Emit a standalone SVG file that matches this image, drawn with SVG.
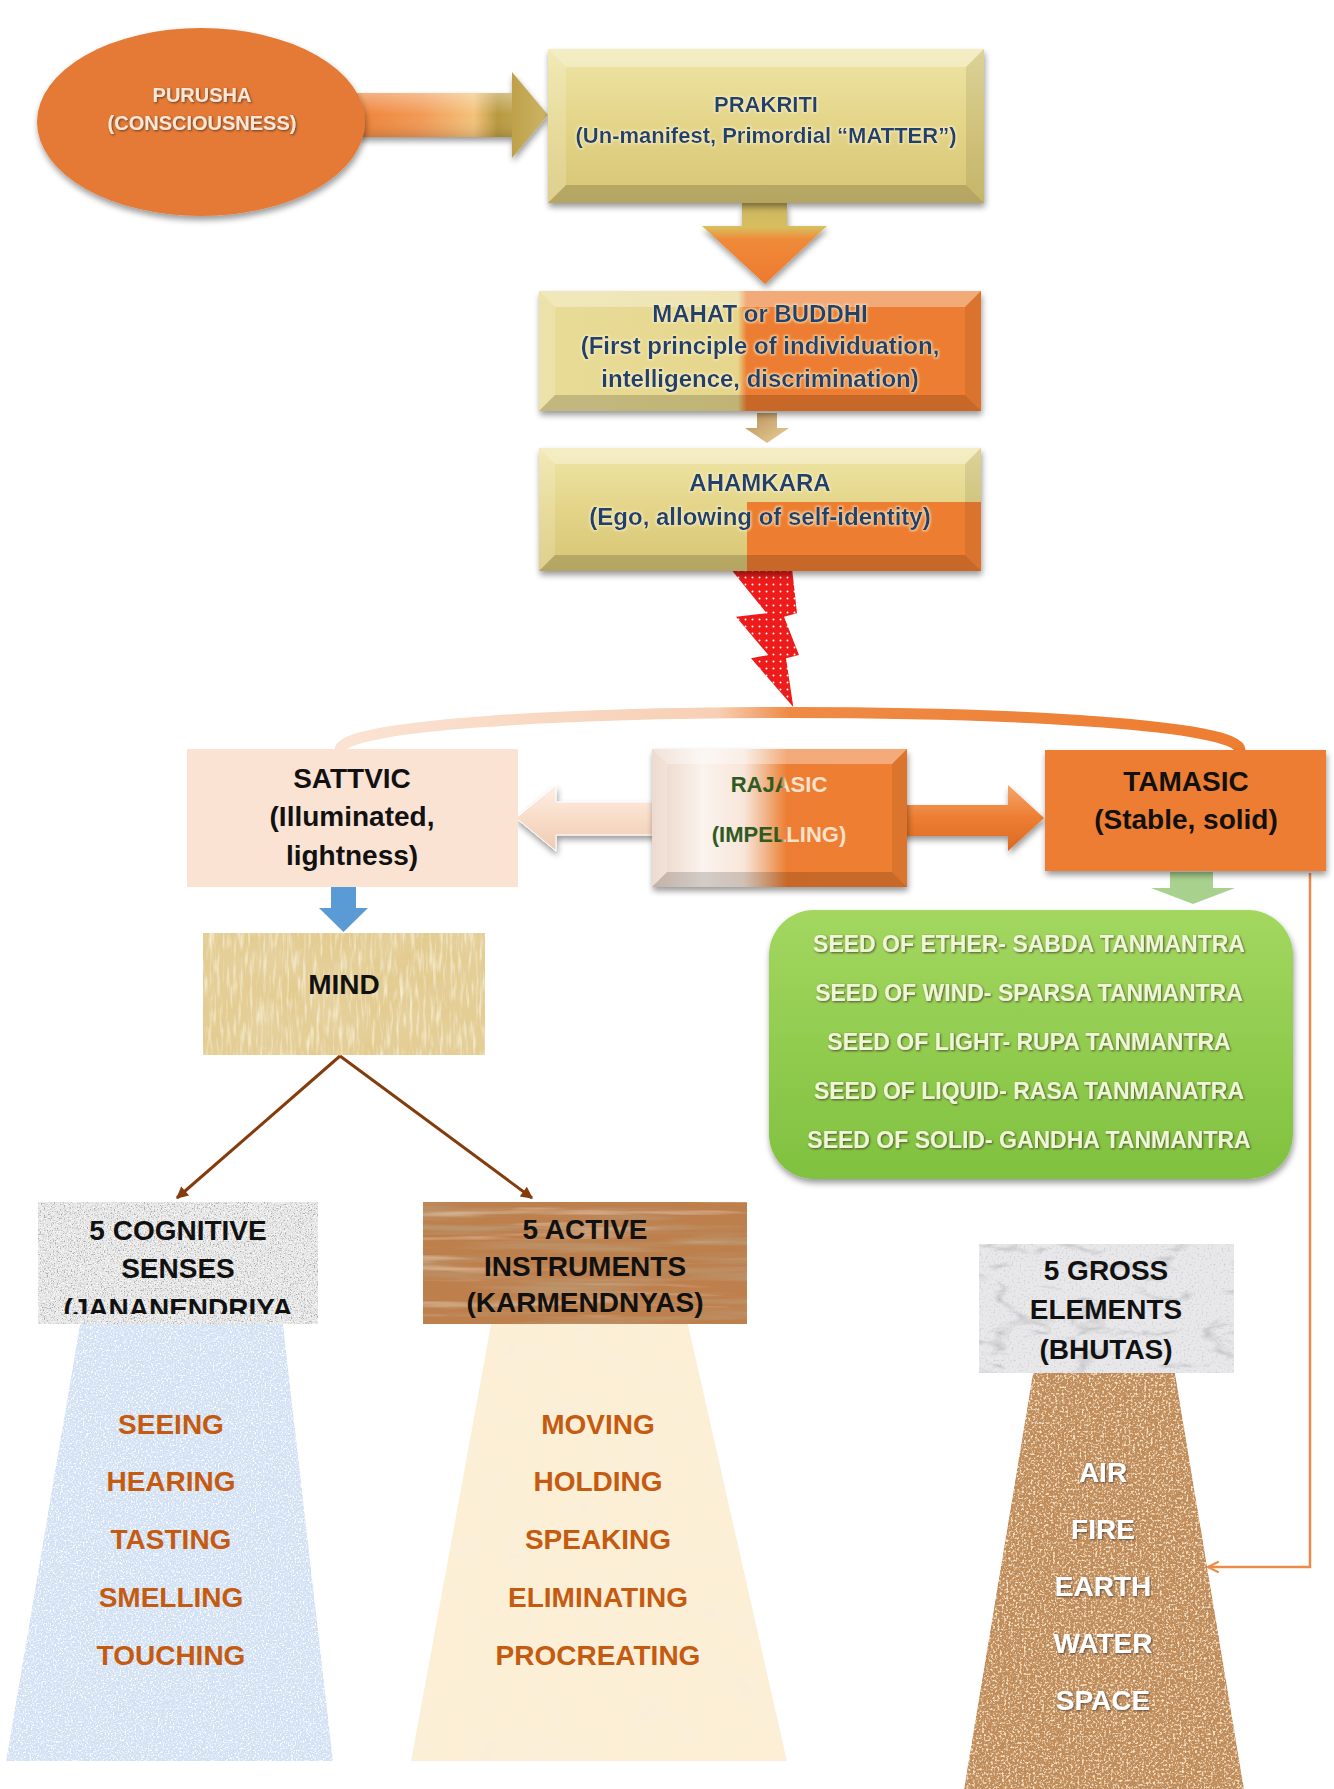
<svg xmlns="http://www.w3.org/2000/svg" width="1334" height="1789" viewBox="0 0 1334 1789">
<defs>
<style>
.t{font-family:"Liberation Sans",Arial,Helvetica,sans-serif;font-weight:bold;text-anchor:middle}
.navy{fill:#22406c}
.blk{fill:#111;font-size:28px}
.org{fill:#c55a11;font-size:28px}
.wht{fill:#fff;font-size:28px}
.grn{fill:#eef6d6;font-size:23px}
.bvT{fill:#fff;opacity:.35}
.bvL{fill:#fff;opacity:.18}
.bvR{fill:#000;opacity:.08}
.bvB{fill:#000;opacity:.16}
</style>
<filter id="sh" x="-10%" y="-10%" width="125%" height="135%">
<feGaussianBlur in="SourceAlpha" stdDeviation="3"/>
<feOffset dx="1" dy="4" result="b"/>
<feComponentTransfer in="b" result="bb"><feFuncA type="linear" slope="0.4"/></feComponentTransfer>
<feMerge><feMergeNode in="bb"/><feMergeNode in="SourceGraphic"/></feMerge>
</filter>
<filter id="tsh" x="-5%" y="-20%" width="110%" height="150%">
<feDropShadow dx="1" dy="1" stdDeviation="0.8" flood-color="#3a2a20" flood-opacity="0.75"/>
</filter>
<filter id="glow" x="-5%" y="-30%" width="110%" height="160%">
<feMorphology in="SourceAlpha" operator="dilate" radius="1.2" result="d"/>
<feGaussianBlur in="d" stdDeviation="1" result="b"/>
<feFlood flood-color="#f8f2c8" flood-opacity="0.75"/>
<feComposite in2="b" operator="in" result="g"/>
<feMerge><feMergeNode in="g"/><feMergeNode in="SourceGraphic"/></feMerge>
</filter>
<filter id="fGranite">
<feTurbulence type="fractalNoise" baseFrequency="0.7" numOctaves="2" seed="4" result="n"/>
<feColorMatrix in="n" type="matrix" values="0 0 0 0 0.4 0 0 0 0 0.4 0 0 0 0 0.4 4 0 0 0 -2" result="c"/>
<feColorMatrix in="n" type="matrix" values="0 0 0 0 1 0 0 0 0 1 0 0 0 0 1 0 -4 0 0 1.9" result="c2"/>
<feMerge result="m"><feMergeNode in="SourceGraphic"/><feMergeNode in="c"/><feMergeNode in="c2"/></feMerge>
<feComposite in="m" in2="SourceGraphic" operator="in"/>
</filter>
<filter id="fWood">
<feTurbulence type="fractalNoise" baseFrequency="0.006 0.12" numOctaves="3" seed="7" result="n"/>
<feColorMatrix in="n" type="matrix" values="0 0 0 0 0.5 0 0 0 0 0.3 0 0 0 0 0.15 2.5 0 0 0 -1.05" result="c"/>
<feColorMatrix in="n" type="matrix" values="0 0 0 0 0.86 0 0 0 0 0.62 0 0 0 0 0.42 0 -2 0 0 0.8" result="c2"/>
<feMerge result="m"><feMergeNode in="SourceGraphic"/><feMergeNode in="c"/><feMergeNode in="c2"/></feMerge>
<feComposite in="m" in2="SourceGraphic" operator="in"/>
</filter>
<filter id="fPapyrus">
<feTurbulence type="fractalNoise" baseFrequency="0.04 0.3" numOctaves="2" seed="2" result="n1"/>
<feColorMatrix in="n1" type="matrix" values="0 0 0 0 0.75 0 0 0 0 0.62 0 0 0 0 0.35 2 0 0 0 -0.95" result="c1"/>
<feTurbulence type="fractalNoise" baseFrequency="0.3 0.04" numOctaves="2" seed="5" result="n2"/>
<feColorMatrix in="n2" type="matrix" values="0 0 0 0 0.96 0 0 0 0 0.9 0 0 0 0 0.7 2 0 0 0 -0.95" result="c2"/>
<feTurbulence type="fractalNoise" baseFrequency="0.02" numOctaves="2" seed="8" result="n3"/>
<feColorMatrix in="n3" type="matrix" values="0 0 0 0 0.8 0 0 0 0 0.66 0 0 0 0 0.38 1.5 0 0 0 -0.6" result="c3"/>
<feMerge result="m"><feMergeNode in="SourceGraphic"/><feMergeNode in="c3"/><feMergeNode in="c1"/><feMergeNode in="c2"/></feMerge>
<feComposite in="m" in2="SourceGraphic" operator="in"/>
</filter>
<filter id="fBlue">
<feTurbulence type="fractalNoise" baseFrequency="0.6" numOctaves="2" seed="9" result="n"/>
<feColorMatrix in="n" type="matrix" values="0 0 0 0 1 0 0 0 0 1 0 0 0 0 1 4 0 0 0 -1.9" result="c"/>
<feColorMatrix in="n" type="matrix" values="0 0 0 0 0.62 0 0 0 0 0.74 0 0 0 0 0.9 0 4 0 0 -2.1" result="c2"/>
<feMerge result="m"><feMergeNode in="SourceGraphic"/><feMergeNode in="c"/><feMergeNode in="c2"/></feMerge>
<feComposite in="m" in2="SourceGraphic" operator="in"/>
</filter>
<filter id="fCream">
<feTurbulence type="fractalNoise" baseFrequency="0.03" numOctaves="3" seed="3" result="n"/>
<feColorMatrix in="n" type="matrix" values="0 0 0 0 0.95 0 0 0 0 0.86 0 0 0 0 0.7 2 0 0 0 -0.85" result="c"/>
<feMerge result="m"><feMergeNode in="SourceGraphic"/><feMergeNode in="c"/></feMerge>
<feComposite in="m" in2="SourceGraphic" operator="in"/>
</filter>
<filter id="fMarble">
<feTurbulence type="turbulence" baseFrequency="0.012 0.03" numOctaves="4" seed="11" result="n"/>
<feColorMatrix in="n" type="matrix" values="0 0 0 0 0.5 0 0 0 0 0.5 0 0 0 0 0.53 -4 0 0 0 0.85" result="c"/>
<feTurbulence type="fractalNoise" baseFrequency="0.5" numOctaves="2" seed="12" result="n2"/>
<feColorMatrix in="n2" type="matrix" values="0 0 0 0 0.6 0 0 0 0 0.6 0 0 0 0 0.62 3 0 0 0 -1.6" result="c2"/>
<feMerge result="m"><feMergeNode in="SourceGraphic"/><feMergeNode in="c"/><feMergeNode in="c2"/></feMerge>
<feComposite in="m" in2="SourceGraphic" operator="in"/>
</filter>
<filter id="fCork">
<feTurbulence type="fractalNoise" baseFrequency="0.45" numOctaves="2" seed="6" result="n"/>
<feColorMatrix in="n" type="matrix" values="0 0 0 0 0.45 0 0 0 0 0.26 0 0 0 0 0.12 4 0 0 0 -1.9" result="c"/>
<feColorMatrix in="n" type="matrix" values="0 0 0 0 0.94 0 0 0 0 0.78 0 0 0 0 0.56 0 4 0 0 -2.0" result="c2"/>
<feMerge result="m"><feMergeNode in="SourceGraphic"/><feMergeNode in="c"/><feMergeNode in="c2"/></feMerge>
<feComposite in="m" in2="SourceGraphic" operator="in"/>
</filter>
<linearGradient id="gGold" x1="0" y1="0" x2="0" y2="1">
<stop offset="0" stop-color="#efe5a6"/><stop offset="0.5" stop-color="#e3d488"/><stop offset="1" stop-color="#d7c574"/>
</linearGradient>
<linearGradient id="gMahat" gradientUnits="userSpaceOnUse" x1="539" y1="0" x2="981" y2="0">
<stop offset="0" stop-color="#e8dc98"/><stop offset="0.45" stop-color="#e6d68c"/><stop offset="0.47" stop-color="#ed7d31"/><stop offset="1" stop-color="#ed7d31"/>
</linearGradient>
<linearGradient id="gRaj" gradientUnits="userSpaceOnUse" x1="652" y1="0" x2="907" y2="0">
<stop offset="0" stop-color="#ead3c4"/><stop offset="0.2" stop-color="#fbf3ee"/><stop offset="0.36" stop-color="#f8e6da"/><stop offset="0.44" stop-color="#f1b88e"/><stop offset="0.53" stop-color="#ed7d31"/><stop offset="1" stop-color="#ee7f33"/>
</linearGradient>
<linearGradient id="gRajText" gradientUnits="userSpaceOnUse" x1="776" y1="0" x2="790" y2="0">
<stop offset="0.3" stop-color="#2f5a22"/><stop offset="0.7" stop-color="#fbe2cc"/>
</linearGradient>
<linearGradient id="gArr1" gradientUnits="userSpaceOnUse" x1="353" y1="0" x2="548" y2="0">
<stop offset="0" stop-color="#ee8035"/><stop offset="0.35" stop-color="#f29a55"/><stop offset="0.62" stop-color="#f3c27a"/><stop offset="0.74" stop-color="#b8983e"/><stop offset="1" stop-color="#cdb566"/>
</linearGradient>
<linearGradient id="gHi" x1="0" y1="0" x2="0" y2="1">
<stop offset="0" stop-color="#fff" stop-opacity="0.35"/><stop offset="0.5" stop-color="#fff" stop-opacity="0"/><stop offset="1" stop-color="#000" stop-opacity="0.12"/>
</linearGradient>
<linearGradient id="gDown" gradientUnits="userSpaceOnUse" x1="0" y1="203" x2="0" y2="284">
<stop offset="0" stop-color="#c9b461"/><stop offset="0.3" stop-color="#d8be5c"/><stop offset="0.45" stop-color="#f08a3a"/><stop offset="1" stop-color="#ec7a2e"/>
</linearGradient>
<linearGradient id="gSmall" x1="0" y1="0" x2="1" y2="1">
<stop offset="0" stop-color="#b88f58"/><stop offset="1" stop-color="#ead19a"/>
</linearGradient>
<linearGradient id="gArc" gradientUnits="userSpaceOnUse" x1="340" y1="0" x2="1240" y2="0">
<stop offset="0" stop-color="#fbe3d3"/><stop offset="0.42" stop-color="#f7cfb4"/><stop offset="0.5" stop-color="#ef8a45"/><stop offset="1" stop-color="#ed7d31"/>
</linearGradient>
<linearGradient id="gPeachArr" x1="0" y1="0" x2="0" y2="1">
<stop offset="0" stop-color="#fdf0e6"/><stop offset="0.5" stop-color="#f8dcc8"/><stop offset="1" stop-color="#efcbb2"/>
</linearGradient>
<linearGradient id="gOrArr" x1="0" y1="0" x2="0" y2="1">
<stop offset="0" stop-color="#f6a66c"/><stop offset="0.5" stop-color="#ed7d31"/><stop offset="1" stop-color="#d96a22"/>
</linearGradient>
<linearGradient id="gGreen" x1="0" y1="0" x2="0" y2="1">
<stop offset="0" stop-color="#a3d760"/><stop offset="1" stop-color="#80c13f"/>
</linearGradient>
<pattern id="dots" width="7" height="7" patternUnits="userSpaceOnUse">
<rect width="7" height="7" fill="#ee1b1b"/><circle cx="3.5" cy="3.5" r="1" fill="#fff"/>
</pattern>
<marker id="mBrown" viewBox="0 0 10 10" refX="9" refY="5" markerWidth="14" markerHeight="12" markerUnits="userSpaceOnUse" orient="auto">
<path d="M0,0 L10,5 L0,10 z" fill="#843c0c"/>
</marker>
<marker id="mOrange" viewBox="0 0 10 10" refX="9" refY="5" markerWidth="14" markerHeight="12" markerUnits="userSpaceOnUse" orient="auto">
<path d="M0,0.5 L9,5 L0,9.5" fill="none" stroke="#ed8a4a" stroke-width="1.8"/>
</marker>
<clipPath id="clipCog"><rect x="38" y="1200" width="280" height="114"/></clipPath>
</defs>

<rect width="1334" height="1789" fill="#fff"/>

<g id="connectors">
<path d="M340,750 C340,700 1240,700 1240,750" fill="none" stroke="url(#gArc)" stroke-width="11"/>
<g filter="url(#sh)">
<polygon points="353,93 512,93 512,72 548,115 512,158 512,137 353,137" fill="url(#gArr1)"/>
<polygon points="353,93 512,93 512,137 353,137" fill="url(#gHi)"/>
</g>
<polygon points="742,203 787,203 787,226 827,226 765,284 702,226 742,226" fill="url(#gDown)" filter="url(#sh)"/>
<polygon points="757,413 777,413 777,428 789,428 767,443 745,428 757,428" fill="url(#gSmall)"/>
<polygon points="730,568 792,568 797,613.3 784,616.7 799,655 786,658.3 793.3,707 751,658.3 768.3,655 736,616.7 766.7,613.3" fill="url(#dots)"/>
<polygon points="516,818 556,785 556,802 670,802 670,835 556,835 556,851" fill="url(#gPeachArr)" stroke="#fff" stroke-width="1" filter="url(#sh)"/>
<polygon points="895,805 1008,805 1008,785 1044,818 1008,851 1008,836 895,836" fill="url(#gOrArr)" filter="url(#sh)"/>
<polygon points="331,874 356,874 356,908 368,908 343.5,932 319,908 331,908" fill="#5b9bd5"/>
<polygon points="1170,872 1213,872 1213,888 1235,888 1193,904 1151,888 1170,888" fill="#a9d18e"/>
<line x1="340" y1="1056" x2="177" y2="1198" stroke="#843c0c" stroke-width="3" marker-end="url(#mBrown)"/>
<line x1="340" y1="1056" x2="532" y2="1198" stroke="#843c0c" stroke-width="3" marker-end="url(#mBrown)"/>
<path d="M1310,873 V1567 H1208" fill="none" stroke="#ed8a4a" stroke-width="2.5" marker-end="url(#mOrange)"/>
</g>

<g id="purusha">
<ellipse cx="201" cy="122" rx="164" ry="94" fill="#e47a36" filter="url(#sh)"/>
<g class="t" font-size="20" fill="#fce6d6" filter="url(#tsh)">
<text x="202" y="102">PURUSHA</text>
<text x="202" y="130">(CONSCIOUSNESS)</text>
</g>
</g>

<g id="prakriti">
<rect x="548" y="49" width="436" height="154" fill="url(#gGold)" filter="url(#sh)"/>
<polygon class="bvT" points="548,49 984,49 966,67 566,67"/>
<polygon class="bvL" points="548,49 566,67 566,185 548,203"/>
<polygon class="bvR" points="984,49 984,203 966,185 966,67"/>
<polygon class="bvB" points="548,203 566,185 966,185 984,203"/>
<g class="t navy" font-size="22" filter="url(#glow)">
<text x="766" y="112">PRAKRITI</text>
<text x="766" y="143">(Un-manifest, Primordial “MATTER”)</text>
</g>
</g>

<g id="mahat">
<rect x="539" y="291" width="442" height="120" fill="url(#gMahat)" filter="url(#sh)"/>
<polygon class="bvT" points="539,291 981,291 965,307 555,307"/>
<polygon class="bvL" points="539,291 555,307 555,395 539,411"/>
<polygon class="bvR" points="981,291 981,411 965,395 965,307"/>
<polygon class="bvB" points="539,411 555,395 965,395 981,411"/>
<g class="t navy" font-size="24" filter="url(#glow)">
<text x="760" y="322">MAHAT or BUDDHI</text>
<text x="760" y="354">(First principle of individuation,</text>
<text x="760" y="387">intelligence, discrimination)</text>
</g>
</g>

<g id="ahamkara">
<rect x="539" y="448" width="442" height="123" fill="url(#gGold)" filter="url(#sh)"/>
<rect x="747" y="502" width="234" height="69" fill="#ed7d31"/>
<polygon class="bvT" points="539,448 981,448 965,464 555,464"/>
<polygon class="bvL" points="539,448 555,464 555,555 539,571"/>
<polygon class="bvR" points="981,448 981,571 965,555 965,464"/>
<polygon class="bvB" points="539,571 555,555 965,555 981,571"/>
<g class="t navy" font-size="24" filter="url(#glow)">
<text x="760" y="491">AHAMKARA</text>
<text x="760" y="525">(Ego, allowing of self-identity)</text>
</g>
</g>

<g id="sattvic">
<rect x="187" y="749" width="331" height="138" fill="#fbe3d4"/>
<g class="t blk">
<text x="352" y="788">SATTVIC</text>
<text x="352" y="826">(Illuminated,</text>
<text x="352" y="865">lightness)</text>
</g>
</g>

<g id="rajasic">
<rect x="652" y="749" width="255" height="138" fill="url(#gRaj)" filter="url(#sh)"/>
<polygon class="bvT" points="652,749 907,749 892,764 667,764"/>
<polygon class="bvL" points="652,749 667,764 667,872 652,887"/>
<polygon class="bvR" points="907,749 907,887 892,872 892,764"/>
<polygon class="bvB" points="652,887 667,872 892,872 907,887"/>
<g class="t" font-size="22" fill="url(#gRajText)">
<text x="779" y="792">RAJASIC</text>
<text x="779" y="842">(IMPELLING)</text>
</g>
</g>

<g id="tamasic">
<rect x="1045" y="750" width="281" height="121" fill="#ed7d31" filter="url(#sh)"/>
<g class="t blk">
<text x="1186" y="791">TAMASIC</text>
<text x="1186" y="829">(Stable, solid)</text>
</g>
</g>

<g id="mind">
<rect x="203" y="933" width="282" height="122" fill="#e4cc90" filter="url(#fPapyrus)"/>
<text class="t blk" x="344" y="994">MIND</text>
</g>

<g id="tanmantras">
<rect x="769" y="910" width="524" height="269" rx="45" ry="45" fill="url(#gGreen)" filter="url(#sh)"/>
<g class="t grn" filter="url(#tsh)">
<text x="1029" y="952">SEED OF ETHER- SABDA TANMANTRA</text>
<text x="1029" y="1001">SEED OF WIND- SPARSA TANMANTRA</text>
<text x="1029" y="1050">SEED OF LIGHT- RUPA TANMANTRA</text>
<text x="1029" y="1099">SEED OF LIQUID- RASA TANMANATRA</text>
<text x="1029" y="1148">SEED OF SOLID- GANDHA TANMANTRA</text>
</g>
</g>

<g id="cognitive">
<polygon points="80,1324 283,1324 333,1761 6,1761" fill="#d2e1f3" filter="url(#fBlue)"/>
<rect x="38" y="1202" width="280" height="122" fill="#e8e8e8" filter="url(#fGranite)"/>
<g class="t blk">
<text x="178" y="1240">5 COGNITIVE</text>
<text x="178" y="1278">SENSES</text>
<text x="178" y="1318" clip-path="url(#clipCog)">(JANANENDRIYA</text>
</g>
<g class="t org">
<text x="171" y="1434">SEEING</text>
<text x="171" y="1491">HEARING</text>
<text x="171" y="1549">TASTING</text>
<text x="171" y="1607">SMELLING</text>
<text x="171" y="1665">TOUCHING</text>
</g>
</g>

<g id="active">
<polygon points="491,1324 688,1324 787,1761 411,1761" fill="#fcefd5" filter="url(#fCream)"/>
<rect x="423" y="1202" width="324" height="122" fill="#bd7f4c" filter="url(#fWood)"/>
<g class="t blk">
<text x="585" y="1239">5 ACTIVE</text>
<text x="585" y="1276">INSTRUMENTS</text>
<text x="585" y="1312">(KARMENDNYAS)</text>
</g>
<g class="t org">
<text x="598" y="1434">MOVING</text>
<text x="598" y="1491">HOLDING</text>
<text x="598" y="1549">SPEAKING</text>
<text x="598" y="1607">ELIMINATING</text>
<text x="598" y="1665">PROCREATING</text>
</g>
</g>

<g id="gross">
<polygon points="1033,1373 1175,1373 1244,1789 964,1789" fill="#c48d58" filter="url(#fCork)"/>
<rect x="979" y="1244" width="255" height="129" fill="#e8e8ea" filter="url(#fMarble)"/>
<g class="t blk">
<text x="1106" y="1280">5 GROSS</text>
<text x="1106" y="1319">ELEMENTS</text>
<text x="1106" y="1359">(BHUTAS)</text>
</g>
<g class="t wht" filter="url(#tsh)">
<text x="1103" y="1482">AIR</text>
<text x="1103" y="1539">FIRE</text>
<text x="1103" y="1596">EARTH</text>
<text x="1103" y="1653">WATER</text>
<text x="1103" y="1710">SPACE</text>
</g>
</g>
</svg>
